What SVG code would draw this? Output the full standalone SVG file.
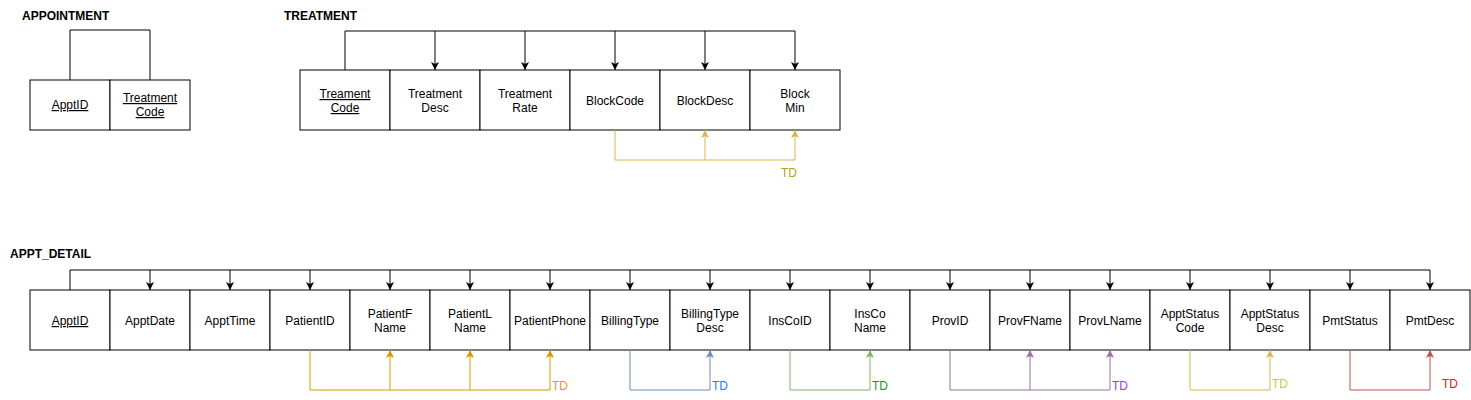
<svg xmlns="http://www.w3.org/2000/svg" width="1471" height="400" viewBox="0 0 1471 400">
<style>
text{font-family:"Liberation Sans",Arial,sans-serif;font-size:12px;fill:#000;text-anchor:middle}
.t{font-weight:bold;text-anchor:start}
.u{text-decoration:underline}
.b{fill:#fff;stroke:#000;stroke-width:1}
.c{fill:none;stroke-width:1}
.td{text-anchor:start}
</style>
<defs>
<marker id="ak" markerWidth="10" markerHeight="10" refX="8" refY="5" orient="auto" markerUnits="userSpaceOnUse"><path d="M0,1 L8,5 L0,9 L2,5 Z" fill="#000"/></marker>
<marker id="ay" markerWidth="10" markerHeight="10" refX="8" refY="5" orient="auto" markerUnits="userSpaceOnUse"><path d="M0,1 L8,5 L0,9 L2,5 Z" fill="#d6b656"/></marker>
<marker id="ao" markerWidth="10" markerHeight="10" refX="8" refY="5" orient="auto" markerUnits="userSpaceOnUse"><path d="M0,1 L8,5 L0,9 L2,5 Z" fill="#d79b00"/></marker>
<marker id="ab" markerWidth="10" markerHeight="10" refX="8" refY="5" orient="auto" markerUnits="userSpaceOnUse"><path d="M0,1 L8,5 L0,9 L2,5 Z" fill="#6c8ebf"/></marker>
<marker id="ag" markerWidth="10" markerHeight="10" refX="8" refY="5" orient="auto" markerUnits="userSpaceOnUse"><path d="M0,1 L8,5 L0,9 L2,5 Z" fill="#82b366"/></marker>
<marker id="ap" markerWidth="10" markerHeight="10" refX="8" refY="5" orient="auto" markerUnits="userSpaceOnUse"><path d="M0,1 L8,5 L0,9 L2,5 Z" fill="#9673a6"/></marker>
<marker id="ar" markerWidth="10" markerHeight="10" refX="8" refY="5" orient="auto" markerUnits="userSpaceOnUse"><path d="M0,1 L8,5 L0,9 L2,5 Z" fill="#b85450"/></marker>
</defs>

<text class="t" x="22" y="20">APPOINTMENT</text>
<text class="t" x="284" y="20">TREATMENT</text>
<text class="t" x="10" y="258">APPT_DETAIL</text>

<g id="appointment">
<g id="a-apptid"><rect class="b" x="30" y="80" width="80" height="50"/><text class="u" x="70" y="109">ApptID</text></g>
<g id="a-treatcode"><rect class="b" x="110" y="80" width="80" height="50"/><text class="u" x="150" y="102">Treatment</text><text class="u" x="150" y="116">Code</text></g>
</g>

<g id="treatment">
<g id="t-code"><rect class="b" x="300" y="70" width="90" height="60"/><text class="u" x="345" y="98">Treament</text><text class="u" x="345" y="112">Code</text></g>
<g id="t-desc"><rect class="b" x="390" y="70" width="90" height="60"/><text x="435" y="98">Treatment</text><text x="435" y="112">Desc</text></g>
<g id="t-rate"><rect class="b" x="480" y="70" width="90" height="60"/><text x="525" y="98">Treatment</text><text x="525" y="112">Rate</text></g>
<g id="t-blockcode"><rect class="b" x="570" y="70" width="90" height="60"/><text x="615" y="105">BlockCode</text></g>
<g id="t-blockdesc"><rect class="b" x="660" y="70" width="90" height="60"/><text x="705" y="105">BlockDesc</text></g>
<g id="t-blockmin"><rect class="b" x="750" y="70" width="90" height="60"/><text x="795" y="98">Block</text><text x="795" y="112">Min</text></g>
</g>

<g id="appt_detail">
<g id="d1"><rect class="b" x="30" y="290" width="80" height="60"/><text class="u" x="70" y="325">ApptID</text></g>
<g id="d2"><rect class="b" x="110" y="290" width="80" height="60"/><text x="150" y="325">ApptDate</text></g>
<g id="d3"><rect class="b" x="190" y="290" width="80" height="60"/><text x="230" y="325">ApptTime</text></g>
<g id="d4"><rect class="b" x="270" y="290" width="80" height="60"/><text x="310" y="325">PatientID</text></g>
<g id="d5"><rect class="b" x="350" y="290" width="80" height="60"/><text x="390" y="318">PatientF</text><text x="390" y="332">Name</text></g>
<g id="d6"><rect class="b" x="430" y="290" width="80" height="60"/><text x="470" y="318">PatientL</text><text x="470" y="332">Name</text></g>
<g id="d7"><rect class="b" x="510" y="290" width="80" height="60"/><text x="550" y="325">PatientPhone</text></g>
<g id="d8"><rect class="b" x="590" y="290" width="80" height="60"/><text x="630" y="325">BillingType</text></g>
<g id="d9"><rect class="b" x="670" y="290" width="80" height="60"/><text x="710" y="318">BillingType</text><text x="710" y="332">Desc</text></g>
<g id="d10"><rect class="b" x="750" y="290" width="80" height="60"/><text x="790" y="325">InsCoID</text></g>
<g id="d11"><rect class="b" x="830" y="290" width="80" height="60"/><text x="870" y="318">InsCo</text><text x="870" y="332">Name</text></g>
<g id="d12"><rect class="b" x="910" y="290" width="80" height="60"/><text x="950" y="325">ProvID</text></g>
<g id="d13"><rect class="b" x="990" y="290" width="80" height="60"/><text x="1030" y="325">ProvFName</text></g>
<g id="d14"><rect class="b" x="1070" y="290" width="80" height="60"/><text x="1110" y="325">ProvLName</text></g>
<g id="d15"><rect class="b" x="1150" y="290" width="80" height="60"/><text x="1190" y="318">ApptStatus</text><text x="1190" y="332">Code</text></g>
<g id="d16"><rect class="b" x="1230" y="290" width="80" height="60"/><text x="1270" y="318">ApptStatus</text><text x="1270" y="332">Desc</text></g>
<g id="d17"><rect class="b" x="1310" y="290" width="80" height="60"/><text x="1350" y="325">PmtStatus</text></g>
<g id="d18"><rect class="b" x="1390" y="290" width="80" height="60"/><text x="1430" y="325">PmtDesc</text></g>
</g>

<g id="connectors">
<path class="c" stroke="#000" d="M70,80 V30 H150 V80"/>

<path class="c" stroke="#000" d="M345,70 V31 H795"/>
<path class="c" stroke="#000" marker-end="url(#ak)" d="M435,31 V70"/>
<path class="c" stroke="#000" marker-end="url(#ak)" d="M525,31 V70"/>
<path class="c" stroke="#000" marker-end="url(#ak)" d="M615,31 V70"/>
<path class="c" stroke="#000" marker-end="url(#ak)" d="M705,31 V70"/>
<path class="c" stroke="#000" marker-end="url(#ak)" d="M795,31 V70"/>

<path class="c" stroke="#d6b656" d="M615,130 V160 H795"/>
<path class="c" stroke="#d6b656" marker-end="url(#ay)" d="M705,160 V130"/>
<path class="c" stroke="#d6b656" marker-end="url(#ay)" d="M795,160 V130"/>

<path class="c" stroke="#000" d="M70,290 V270 H1430"/>
<path class="c" stroke="#000" marker-end="url(#ak)" d="M150,270 V290"/>
<path class="c" stroke="#000" marker-end="url(#ak)" d="M230,270 V290"/>
<path class="c" stroke="#000" marker-end="url(#ak)" d="M310,270 V290"/>
<path class="c" stroke="#000" marker-end="url(#ak)" d="M390,270 V290"/>
<path class="c" stroke="#000" marker-end="url(#ak)" d="M470,270 V290"/>
<path class="c" stroke="#000" marker-end="url(#ak)" d="M550,270 V290"/>
<path class="c" stroke="#000" marker-end="url(#ak)" d="M630,270 V290"/>
<path class="c" stroke="#000" marker-end="url(#ak)" d="M710,270 V290"/>
<path class="c" stroke="#000" marker-end="url(#ak)" d="M790,270 V290"/>
<path class="c" stroke="#000" marker-end="url(#ak)" d="M870,270 V290"/>
<path class="c" stroke="#000" marker-end="url(#ak)" d="M950,270 V290"/>
<path class="c" stroke="#000" marker-end="url(#ak)" d="M1030,270 V290"/>
<path class="c" stroke="#000" marker-end="url(#ak)" d="M1110,270 V290"/>
<path class="c" stroke="#000" marker-end="url(#ak)" d="M1190,270 V290"/>
<path class="c" stroke="#000" marker-end="url(#ak)" d="M1270,270 V290"/>
<path class="c" stroke="#000" marker-end="url(#ak)" d="M1350,270 V290"/>
<path class="c" stroke="#000" marker-end="url(#ak)" d="M1430,270 V290"/>

<path class="c" stroke="#d79b00" d="M310,350 V390 H550"/>
<path class="c" stroke="#d79b00" marker-end="url(#ao)" d="M390,390 V350"/>
<path class="c" stroke="#d79b00" marker-end="url(#ao)" d="M470,390 V350"/>
<path class="c" stroke="#d79b00" marker-end="url(#ao)" d="M550,390 V350"/>

<path class="c" stroke="#6c8ebf" d="M630,350 V390 H710"/>
<path class="c" stroke="#6c8ebf" marker-end="url(#ab)" d="M710,390 V350"/>

<path class="c" stroke="#82b366" d="M790,350 V390 H870"/>
<path class="c" stroke="#82b366" marker-end="url(#ag)" d="M870,390 V350"/>

<path class="c" stroke="#9673a6" d="M950,350 V390 H1110"/>
<path class="c" stroke="#9673a6" marker-end="url(#ap)" d="M1030,390 V350"/>
<path class="c" stroke="#9673a6" marker-end="url(#ap)" d="M1110,390 V350"/>

<path class="c" stroke="#d6b656" d="M1190,350 V390 H1270"/>
<path class="c" stroke="#d6b656" marker-end="url(#ay)" d="M1270,390 V350"/>

<path class="c" stroke="#b85450" d="M1350,350 V390 H1430"/>
<path class="c" stroke="#b85450" marker-end="url(#ar)" d="M1430,390 V350"/>
</g>

<g id="td-labels">
<text class="td" x="781" y="177" style="fill:#b3a020">TD</text>
<text class="td" x="552" y="390" style="fill:#ea9a2a">TD</text>
<text class="td" x="712" y="390" style="fill:#2a80e0">TD</text>
<text class="td" x="872" y="390" style="fill:#1e961e">TD</text>
<text class="td" x="1112" y="390" style="fill:#9b40f0">TD</text>
<text class="td" x="1272" y="388" style="fill:#d0d020">TD</text>
<text class="td" x="1442" y="388" style="fill:#e02020">TD</text>
</g>
</svg>
